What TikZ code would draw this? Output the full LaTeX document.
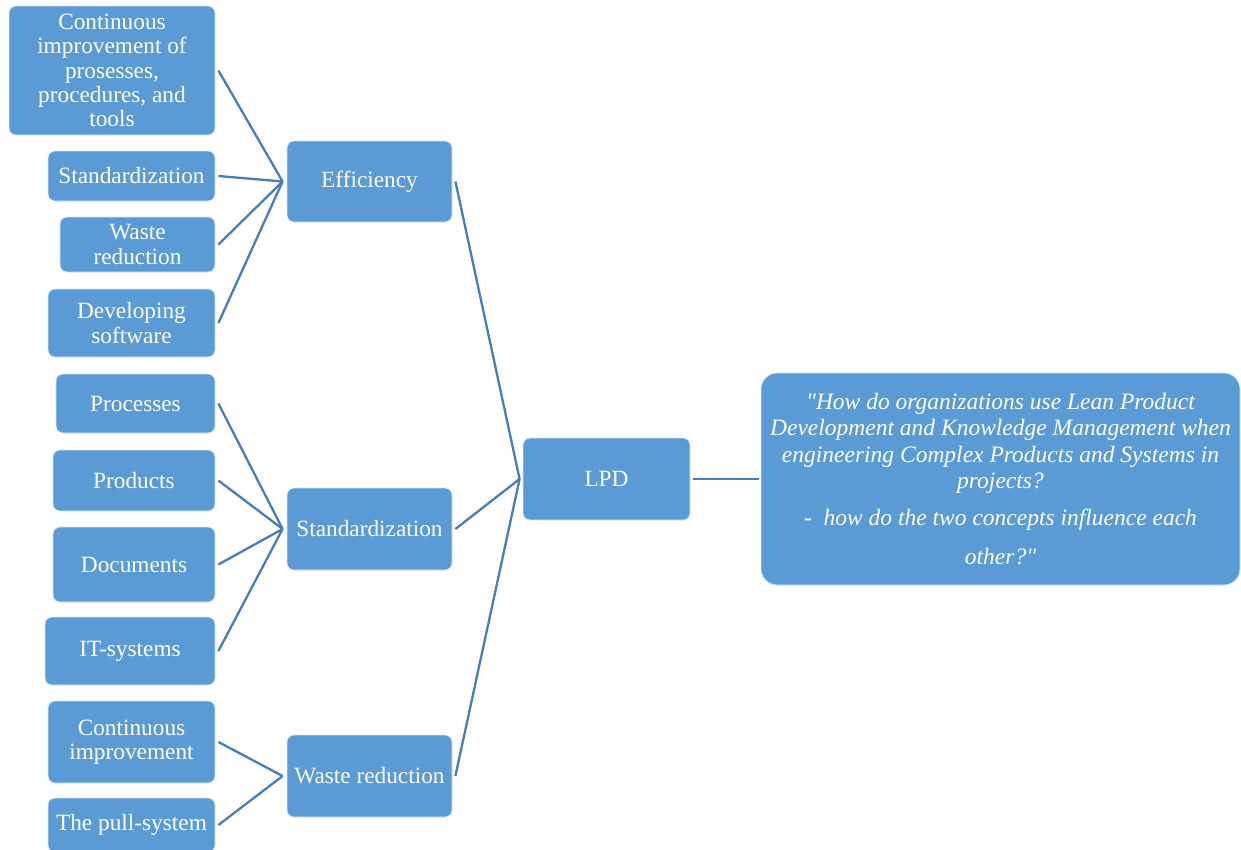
\documentclass[tikz,border=0pt]{standalone}
\usepackage{fontspec}
\setmainfont{Liberation Serif}[Ligatures=TeXOff]
\definecolor{boxblue}{RGB}{91,155,213}
\definecolor{lineblue}{RGB}{72,125,186}
\tikzset{
  box/.style={rectangle, rounded corners=7pt, fill=boxblue, draw=white!75!boxblue, line width=0.8pt,
    text=white, align=center, inner sep=0pt, font=\fontsize{23.3}{24.3}\selectfont},
  qbox/.style={box, rounded corners=16pt, font=\fontsize{23.5}{26.5}\selectfont\itshape},
  conn/.style={draw=lineblue, line width=2.3pt}
}
\begin{document}
\begin{tikzpicture}[x=1pt,y=-1pt]
\clip (0,0) rectangle (1241,849);
\fill[white] (0,0) rectangle (1241,849);
% efficiency group
\node[box, minimum width=206pt, minimum height=129pt] (a1) at (112,70.5) {Continuous\\improvement of\\prosesses,\\procedures, and\\tools};
\node[box, minimum width=167pt, minimum height=50pt] (a2) at (131.5,176) {Standardization};
\node[box, minimum width=155pt, minimum height=55pt] (a3) at (137.5,244.5) {Waste\\reduction};
\node[box, minimum width=167pt, minimum height=68pt] (a4) at (131.5,323) {Developing\\software};
\node[box, minimum width=165pt, minimum height=81pt] (eff) at (369.5,181.5) {Efficiency};
% standardization group
\node[box, minimum width=159pt, minimum height=59pt] (b1) at (135.5,403.5) {Processes};
\node[box, minimum width=162pt, minimum height=61pt] (b2) at (134,480.5) {Products};
\node[box, minimum width=162pt, minimum height=75pt] (b3) at (134,564.5) {Documents};
\node[box, minimum width=170pt, minimum height=68pt] (b4) at (130,651) {IT-systems};
\node[box, minimum width=165pt, minimum height=82pt] (std) at (369.5,529) {Standardization};
% waste reduction group
\node[box, minimum width=167pt, minimum height=82pt] (c1) at (131.5,742) {Continuous\\improvement};
\node[box, minimum width=167pt, minimum height=54pt] (c2) at (131.5,825) {The pull-system};
\node[box, minimum width=165pt, minimum height=82pt] (wr) at (369.5,776) {Waste reduction};
% center
\node[box, minimum width=167pt, minimum height=82pt] (lpd) at (606.5,479) {LPD};
\node[qbox, minimum width=479pt, minimum height=212pt] (q) at (1000.5,479)
  {"How do organizations use Lean Product\\Development and Knowledge Management when\\engineering Complex Products and Systems in\\projects?\\[10.5pt]-\ \ how do the two concepts influence each\\[12.5pt]other?"};
% convergence points
\coordinate (effin) at ([xshift=-4pt]eff.west);
\coordinate (stdin) at ([xshift=-4pt]std.west);
\coordinate (wrin) at ([xshift=-4pt]wr.west);
\coordinate (lpdin) at ([xshift=-3pt]lpd.west);
% connectors
\foreach \n in {a1,a2,a3,a4} \draw[conn] ([xshift=3pt]\n.east) -- (effin);
\foreach \n in {b1,b2,b3,b4} \draw[conn] ([xshift=3pt]\n.east) -- (stdin);
\foreach \n in {c1,c2} \draw[conn] ([xshift=3pt]\n.east) -- (wrin);
\foreach \n in {eff,std,wr} \draw[conn] ([xshift=3pt]\n.east) -- (lpdin);
\draw[conn] ([xshift=3pt]lpd.east) -- ([xshift=-2pt]q.west);
\end{tikzpicture}
\end{document}
